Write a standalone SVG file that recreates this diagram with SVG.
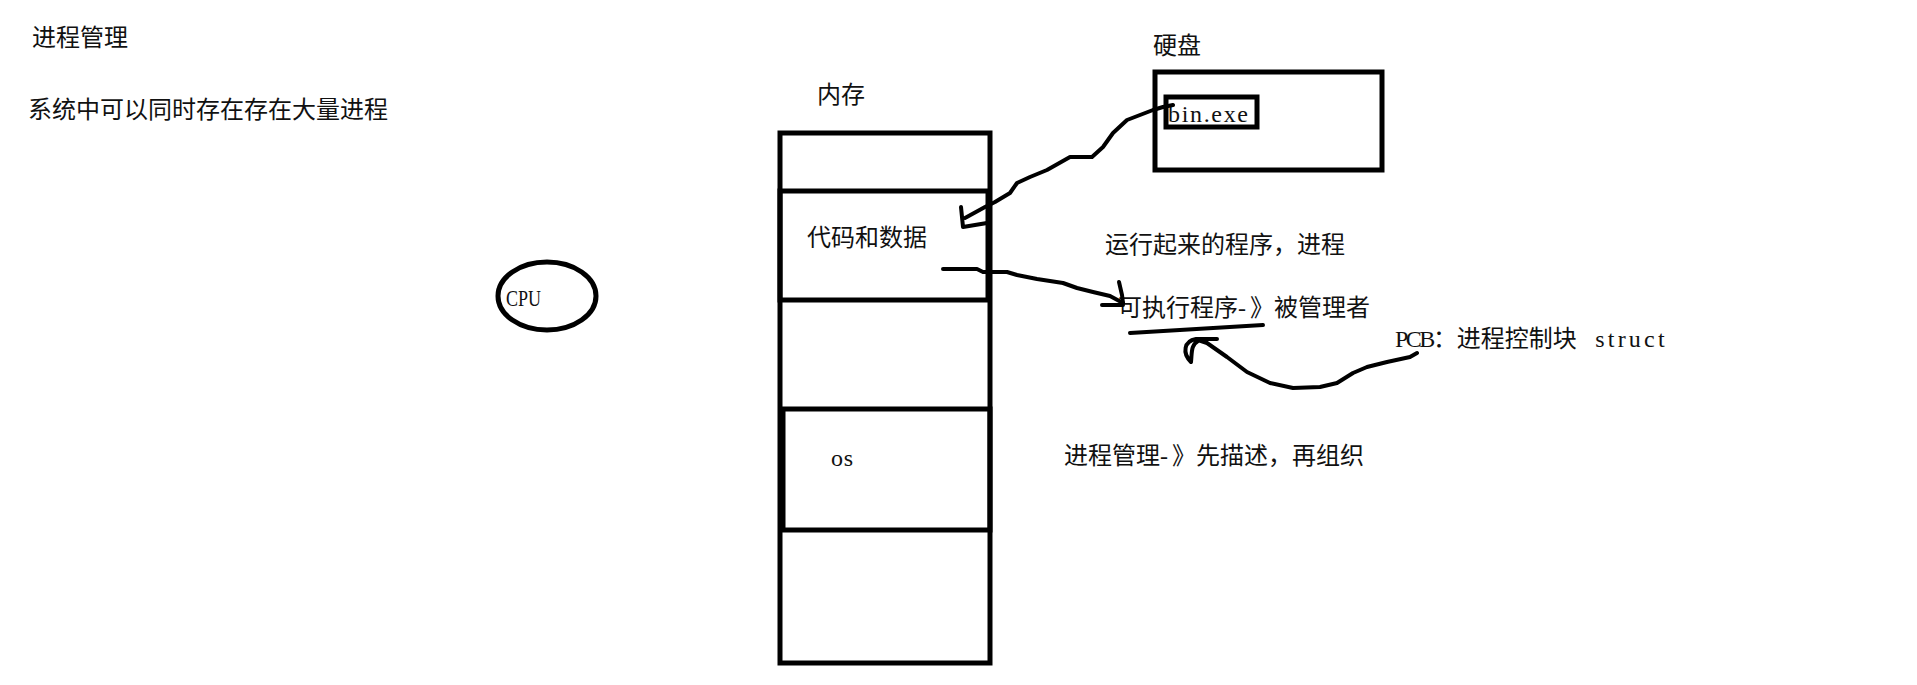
<svg xmlns="http://www.w3.org/2000/svg" width="1917" height="685" viewBox="0 0 1917 685">
<style>
text{font-family:"Noto Sans CJK SC","Noto Sans",sans-serif;font-size:24px;fill:#111;}
.lat{font-family:"Liberation Serif",serif;font-size:24px;}
.box{fill:none;stroke:#000;stroke-width:5;}
.ink{fill:none;stroke:#000;stroke-width:4;stroke-linecap:round;stroke-linejoin:round;}
</style>
<rect width="1917" height="685" fill="#fff"/>
<g id="title"><text x="32" y="46">进程管理</text></g>
<g id="note-many"><text x="28" y="118">系统中可以同时存在存在大量进程</text></g>
<g id="cpu">
<ellipse class="box" cx="547" cy="296" rx="49" ry="34"/>
<text class="lat" x="506" y="306" textLength="35" lengthAdjust="spacingAndGlyphs">CPU</text>
</g>
<g id="memory">
<text x="817" y="103">内存</text>
<rect class="box" x="780" y="133" width="210" height="530"/>
</g>
<g id="code-data">
<rect class="box" x="780" y="191" width="208" height="109"/>
<text x="807" y="246">代码和数据</text>
</g>
<g id="os">
<rect class="box" x="783" y="409" width="207" height="121"/>
<text class="lat" x="831" y="466" textLength="22" lengthAdjust="spacing">os</text>
</g>
<g id="disk">
<text x="1153" y="54">硬盘</text>
<rect class="box" x="1155" y="72" width="227" height="98"/>
</g>
<g id="bin-exe">
<rect class="box" x="1166" y="97" width="91" height="30"/>
<text class="lat" x="1168" y="122" textLength="80" lengthAdjust="spacing">bin.exe</text>
</g>
<g id="note-run"><text x="1105" y="253">运行起来的程序，进程</text></g>
<g id="note-exec"><text x="1118" y="316">可执行程序<tspan class="lat" letter-spacing="4">-</tspan>》被管理者</text></g>
<g id="note-pcb"><text x="1395" y="347" xml:space="preserve"><tspan class="lat" letter-spacing="-2.5">PCB</tspan>：进程控制块<tspan class="lat" letter-spacing="3.2">  struct</tspan></text></g>
<g id="note-manage"><text x="1064" y="464">进程管理<tspan class="lat" letter-spacing="4">-</tspan>》先描述，再组织</text></g>
<g id="connectors">
<path class="ink" d="M1173,105 L1163,107 L1153,110 L1140,115 L1127,120 L1113,133 L1103,147 L1092,157 L1070,157 L1047,170 L1030,177 L1017,183 L1010,193 L995,202 L985,207 L965,218"/>
<path class="ink" d="M961,207 L963,227 L987,223"/>
<path class="ink" d="M943,269 L977,269 L983,272 L1007,272 L1017,275 L1037,279 L1063,283 L1077,288 L1093,292 L1110,296 L1123,303"/>
<path class="ink" d="M1119,282 L1122,295 L1123,303 M1102,305 L1123,305"/>
<path class="ink" d="M1130,333 Q1197,329 1263,325"/>
<path class="ink" d="M1417,353 L1410,357 L1387,362 L1367,367 L1353,373 L1337,383 L1320,387 L1293,388 L1270,383 L1247,372 L1227,357 L1207,343 L1198,340"/>
<path class="ink" stroke-width="3.5" d="M1217,339 L1196,339 C1184,341 1182,353 1191,362 C1192,352 1191,345 1198,341"/>
</g>
</svg>
